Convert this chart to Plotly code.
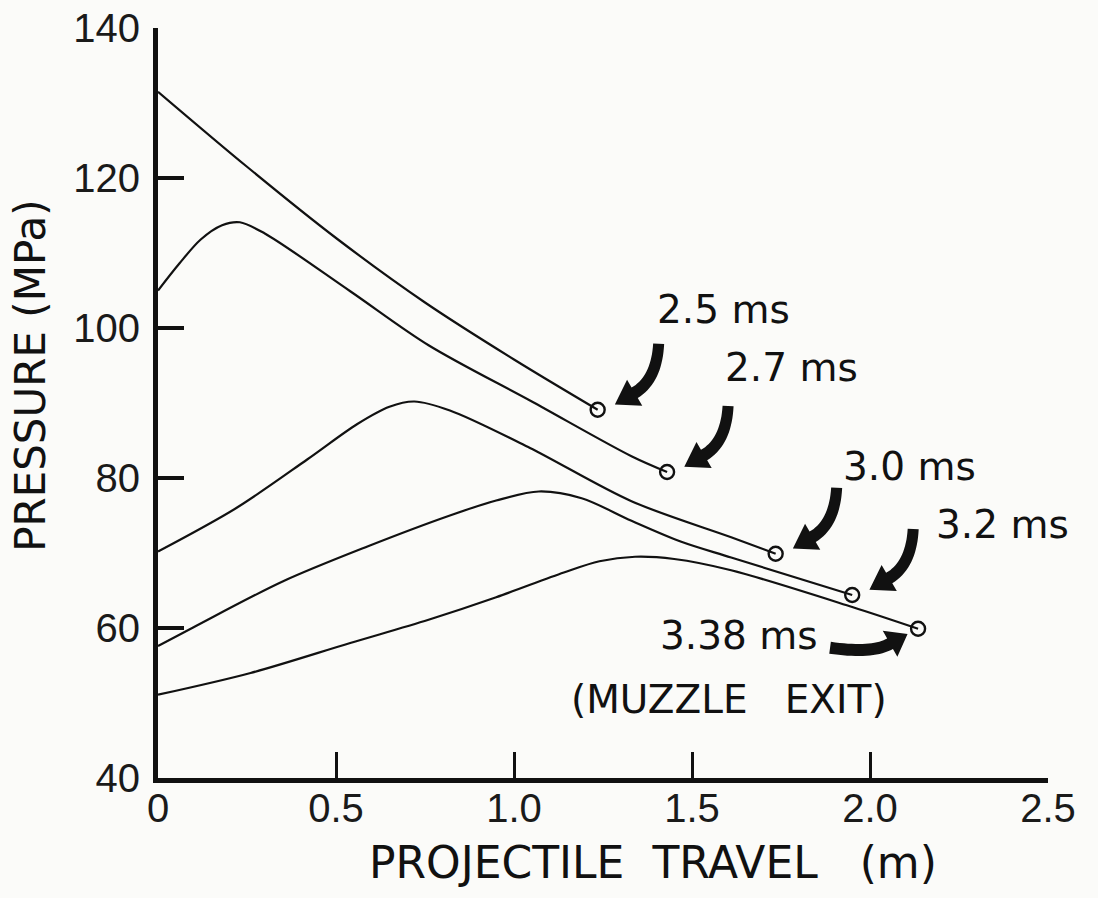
import numpy as np
import plotly.graph_objects as go

# Projectile travel (m) and base pressure (MPa) at successive times
T25_X = [0.0, 0.25, 0.50, 0.75, 1.00, 1.235]
T25_P = [131.5, 121.5, 112.0, 103.4, 95.8, 89.1]

T27_X = [0.0, 0.06, 0.12, 0.18, 0.23, 0.30, 0.54, 0.76, 1.05, 1.33, 1.43]
T27_P = [105.0, 108.6, 111.8, 113.7, 114.1, 112.6, 104.9, 97.7, 90.2, 82.9, 80.8]

T30_X = [0.0, 0.22, 0.42, 0.56, 0.65, 0.72, 0.82, 1.045, 1.33, 1.61, 1.735]
T30_P = [70.2, 76.0, 82.5, 87.2, 89.5, 90.2, 89.0, 84.0, 76.9, 72.1, 69.9]

T32_X = [0.0, 0.10, 0.35, 0.59, 0.82, 0.95, 1.07, 1.19, 1.33, 1.47, 1.61, 1.95]
T32_P = [57.6, 60.1, 66.2, 70.9, 75.0, 77.0, 78.2, 77.3, 74.3, 71.5, 69.4, 64.4]

T338_X = [0.0, 0.26, 0.54, 0.76, 0.95, 1.14, 1.24, 1.34, 1.45, 1.61, 1.95, 2.135]
T338_P = [51.1, 54.0, 58.0, 61.1, 64.1, 67.4, 68.9, 69.5, 69.2, 67.7, 62.8, 59.9]

TIME_LABELS = ["2.5 ms", "2.7 ms", "3.0 ms", "3.2 ms", "3.38 ms"]
X_TICKS = [0, 0.5, 1.0, 1.5, 2.0, 2.5]
X_TICK_TEXT = ["0", "0.5", "1.0", "1.5", "2.0", "2.5"]
Y_TICKS = [40, 60, 80, 100, 120, 140]

series = [
    (TIME_LABELS[0], T25_X, T25_P),
    (TIME_LABELS[1], T27_X, T27_P),
    (TIME_LABELS[2], T30_X, T30_P),
    (TIME_LABELS[3], T32_X, T32_P),
    (TIME_LABELS[4], T338_X, T338_P),
]

# label offsets (pixels, screen x right / y up) from each curve's end point
label_shift = {
    "2.5 ms": (126, 100),
    "2.7 ms": (124, 105),
    "3.0 ms": (134, 87),
    "3.2 ms": (150, 71),
    "3.38 ms": (-179, -7),
}

INK = "#111111"
BG = "#fbfbf9"
LABEL_FONT = "DejaVu Sans"
TICK_FONT = "Liberation Sans"


def swoosh(p0, c, p1, w0, w1, head_len, head_w, n=18):
    """Filled curved arrow as an SVG path in pixel offsets (y up).

    p0, c, p1 are screen offsets (y down) of a quadratic Bezier spine that
    ends at the head base; the head extends along the end tangent.
    """
    p0, c, p1 = map(np.asarray, (p0, c, p1))
    left, right = [], []
    for i in range(n + 1):
        t = i / n
        b = (1 - t) ** 2 * p0 + 2 * (1 - t) * t * c + t ** 2 * p1
        d = 2 * (1 - t) * (c - p0) + 2 * t * (p1 - c)
        d = d / np.hypot(*d)
        nrm = np.array([-d[1], d[0]])
        w = w0 + (w1 - w0) * t
        left.append(b + nrm * w / 2)
        right.append(b - nrm * w / 2)
    d_end = p1 - c
    d_end = d_end / np.hypot(*d_end)
    n_end = np.array([-d_end[1], d_end[0]])
    tip = p1 + d_end * head_len
    h1 = p1 + n_end * head_w / 2
    h2 = p1 - n_end * head_w / 2
    pts = left + [h1, tip, h2] + right[::-1]
    s = "M " + " L ".join(f"{x:.1f},{-y:.1f}" for x, y in pts) + " Z"
    return s


down_arrow = swoosh((61, -66), (59, -30), (37, -17), 11, 12, 23, 30)
side_arrow = swoosh((-88, 19), (-46, 25), (-28, 15), 12, 12, 20, 30)

fig = go.Figure()

for name, xs, ps in series:
    fig.add_trace(go.Scatter(
        x=xs, y=ps, mode="lines", name=name,
        line=dict(color=INK, width=2.2, shape="spline", smoothing=0.9),
        hoverinfo="skip", showlegend=False,
    ))
    fig.add_trace(go.Scatter(
        x=[xs[-1]], y=[ps[-1]], mode="markers", name=name,
        marker=dict(symbol="circle-open", size=14, color=INK, line=dict(width=2.4)),
        showlegend=False,
    ))
    dx, dy = label_shift[name]
    fig.add_annotation(
        x=xs[-1], y=ps[-1], xref="x", yref="y", text=name, showarrow=False,
        xshift=dx, yshift=dy, xanchor="center", yanchor="middle",
        font=dict(family=LABEL_FONT, size=39, color=INK),
    )
    fig.add_shape(
        type="path", xref="x", yref="y",
        xsizemode="pixel", ysizemode="pixel",
        xanchor=xs[-1], yanchor=ps[-1],
        path=side_arrow if name == "3.38 ms" else down_arrow,
        fillcolor=INK, line=dict(width=0),
    )

# muzzle-exit note under the last time label
fig.add_annotation(
    x=T338_X[-1], y=T338_P[-1], xref="x", yref="y",
    text="(MUZZLE\u00a0\u00a0\u00a0EXIT)", showarrow=False,
    xshift=-189, yshift=-71, xanchor="center", yanchor="middle",
    font=dict(family=LABEL_FONT, size=39, color=INK),
)

# axis titles
fig.add_annotation(
    x=0.556, y=-0.112, xref="paper", yref="paper",
    text="PROJECTILE\u00a0\u00a0TRAVEL\u00a0\u00a0\u00a0(m)", showarrow=False,
    xanchor="center", yanchor="middle",
    font=dict(family=LABEL_FONT, size=44, color=INK),
)
fig.add_annotation(
    x=-0.144, y=0.536, xref="paper", yref="paper",
    text="PRESSURE (MPa)", showarrow=False, textangle=-90,
    xanchor="center", yanchor="middle",
    font=dict(family=LABEL_FONT, size=42, color=INK),
)

axis_common = dict(
    showline=True, linewidth=5, linecolor=INK, mirror=False,
    showgrid=False, zeroline=False, automargin=False,
    ticks="inside", ticklen=26, tickcolor=INK,
    tickfont=dict(family=TICK_FONT, size=40, color="#1a1a1a"),
)

fig.update_xaxes(
    range=[0, 2.5], tickmode="array", tickvals=X_TICKS, ticktext=X_TICK_TEXT,
    tickwidth=3, ticklabelstandoff=-9, **axis_common,
)
fig.update_yaxes(
    range=[40, 140], tickmode="array", tickvals=Y_TICKS,
    tickwidth=3.5, ticklabelstandoff=5, **axis_common,
)

fig.update_layout(
    width=1098, height=898,
    margin=dict(l=158, r=50, t=28, b=120, pad=0),
    paper_bgcolor=BG, plot_bgcolor=BG,
    showlegend=False,
)

fig.write_html("out.html")
